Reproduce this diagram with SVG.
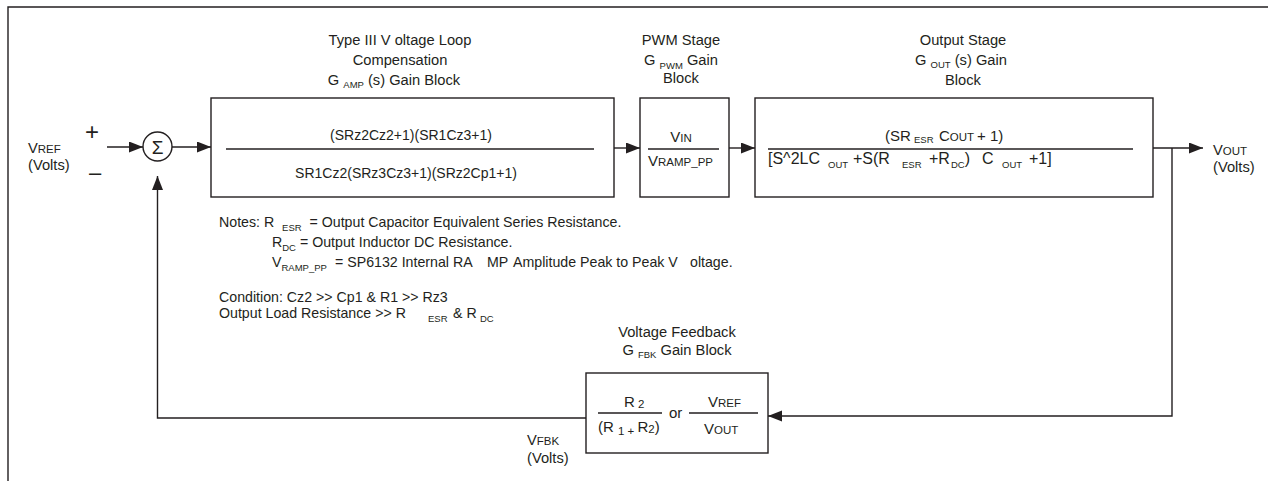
<svg xmlns="http://www.w3.org/2000/svg" width="1268" height="481" viewBox="0 0 1268 481">
<style>
text{font-family:"Liberation Sans",Arial,sans-serif;fill:#231f20;font-size:14.7px}
.t{text-anchor:middle}
.f{font-size:14px}
.fo{font-size:15px}
.fd{font-size:16px}
.n{font-size:14.2px}
.s{font-size:9.5px}
.sc{font-size:11.5px}
.ln{stroke:#231f20;stroke-width:1.4;fill:none}
.bx{stroke:#231f20;stroke-width:1.4;fill:#fff}
.pre{white-space:pre}
</style>
<defs>
<marker id="ah" markerUnits="userSpaceOnUse" markerWidth="15" markerHeight="12" refX="14" refY="5.5" orient="auto">
<path d="M0,0 L14,5.5 L0,11 Z" fill="#231f20"/>
</marker>
</defs>
<g id="frame">
<path class="ln" d="M8,481 V7 H1268" stroke-width="1.6"/>
</g>
<g id="connectors">
<path class="ln" d="M107,147 H143" marker-end="url(#ah)"/>
<path class="ln" d="M172,147 H211" marker-end="url(#ah)"/>
<path class="ln" d="M614,148 H640" marker-end="url(#ah)"/>
<path class="ln" d="M729,148 H755" marker-end="url(#ah)"/>
<path class="ln" d="M1150,148 H1203" marker-end="url(#ah)"/>
<path class="ln" d="M1172,148 V416 H768" marker-end="url(#ah)"/>
<path class="ln" d="M586,418 H157.5 V176" marker-end="url(#ah)"/>
</g>
<g id="vref">
<text x="28" y="153">V<tspan class="sc">REF</tspan></text>
<text x="28" y="170">(Volts)</text>
<text x="92" y="140" class="t" style="font-size:24px">+</text>
<text x="95" y="180" class="t" style="font-size:22px">–</text>
</g>
<g id="sum">
<circle cx="157.5" cy="146.5" r="14.5" class="bx"/>
<text x="157.5" y="153.5" class="t" style="font-size:19px">Σ</text>
</g>
<g id="amp">
<text x="400" y="45" class="t">Type III V  oltage Loop</text>
<text x="400" y="65" class="t">Compensation</text>
<text x="394" y="85" class="t">G <tspan class="s" dy="3">AMP</tspan><tspan dy="-3">  (s) Gain Block</tspan></text>
<rect x="211" y="98" width="403" height="99" class="bx"/>
<path class="ln" d="M226,149 H594"/>
<text x="411" y="140" class="t f">(SRz2Cz2+1)(SR1Cz3+1)</text>
<text x="406" y="178" class="t f">SR1Cz2(SRz3Cz3+1)(SRz2Cp1+1)</text>
</g>
<g id="pwm">
<text x="681" y="45" class="t">PWM Stage</text>
<text x="681" y="65" class="t">G <tspan class="s" dy="4">PWM</tspan><tspan dy="-4"> Gain</tspan></text>
<text x="681" y="83" class="t">Block</text>
<rect x="640" y="98" width="89" height="99" class="bx"/>
<path class="ln" d="M648,149 H719"/>
<text x="681" y="142" class="t fo">V<tspan class="sc">IN</tspan></text>
<text x="648" y="166" class="fo">V<tspan class="sc">RAMP_PP</tspan></text>
</g>
<g id="out">
<text x="963" y="45" class="t">Output Stage</text>
<text x="961" y="65" class="t">G <tspan class="s" dy="3">OUT</tspan><tspan dy="-3"> (s) Gain</tspan></text>
<text x="963" y="85" class="t">Block</text>
<rect x="755" y="98" width="398" height="99" class="bx"/>
<path class="ln" d="M768,149 H1133"/>
<text y="141" class="fo"><tspan x="885">(SR</tspan><tspan x="914" class="s" dy="2">ESR</tspan><tspan x="939" dy="-2">C</tspan><tspan class="sc">OUT</tspan><tspan x="977">+ 1)</tspan></text>
<text y="164" class="fd"><tspan x="768">[S^2LC</tspan><tspan x="828" class="s" dy="4">OUT</tspan><tspan x="853" dy="-4">+S(R</tspan><tspan x="902" class="s" dy="4">ESR</tspan><tspan x="929" dy="-4">+R</tspan><tspan x="951" class="s" dy="4">DC</tspan><tspan dy="-4">)</tspan><tspan x="982">C</tspan><tspan x="1002" class="s" dy="4">OUT</tspan><tspan x="1029" dy="-4">+1]</tspan></text>
</g>
<g id="vout">
<text x="1213" y="155">V<tspan class="sc">OUT</tspan></text>
<text x="1213" y="172">(Volts)</text>
</g>
<g id="notes">
<text x="219" y="227" class="n pre">Notes: R  <tspan class="s" dy="4">ESR</tspan><tspan dy="-4">  = Output Capacitor Equivalent Series Resistance.</tspan></text>
<text x="272" y="247" class="n pre">R<tspan class="s" dy="4">DC</tspan><tspan dy="-4"> = Output Inductor DC Resistance.</tspan></text>
<text x="272" y="267" class="n pre">V<tspan class="s" dy="4">RAMP_PP</tspan><tspan dy="-4" x="335">= SP6132 Internal RA</tspan><tspan x="487">MP</tspan><tspan x="513">Amplitude Peak to Peak V</tspan><tspan x="690">oltage.</tspan></text>
<text x="219" y="302" class="n">Condition: Cz2 &gt;&gt; Cp1 &amp; R1 &gt;&gt; Rz3</text>
<text y="318" class="n"><tspan x="219">Output Load Resistance &gt;&gt; R</tspan><tspan x="428" class="s" dy="4">ESR</tspan><tspan x="453" dy="-4">&amp; R</tspan><tspan x="480" class="s" dy="4">DC</tspan></text>
</g>
<g id="fbk">
<text x="677" y="337" class="t">Voltage Feedback</text>
<text x="677" y="355" class="t">G <tspan class="s" dy="3">FBK</tspan><tspan dy="-3">  Gain Block</tspan></text>
<rect x="586" y="373" width="182" height="80" class="bx"/>
<path class="ln" d="M598,413 H662 M689,413 H758"/>
<text x="624" y="407" class="fo">R<tspan class="sc" dy="1"> 2</tspan></text>
<text x="598" y="432" class="fo pre">(R <tspan class="sc" dy="3">1 + </tspan><tspan dy="-3">R</tspan><tspan class="sc" dy="1">2</tspan><tspan dy="-1">)</tspan></text>
<text x="669" y="418" class="fo">or</text>
<text x="708" y="407" class="fo">V<tspan class="sc">REF</tspan></text>
<text x="704" y="434" class="fo">V<tspan class="sc">OUT</tspan></text>
</g>
<g id="vfbk">
<text x="527" y="445">V<tspan class="sc">FBK</tspan></text>
<text x="527" y="463">(Volts)</text>
</g>
</svg>
